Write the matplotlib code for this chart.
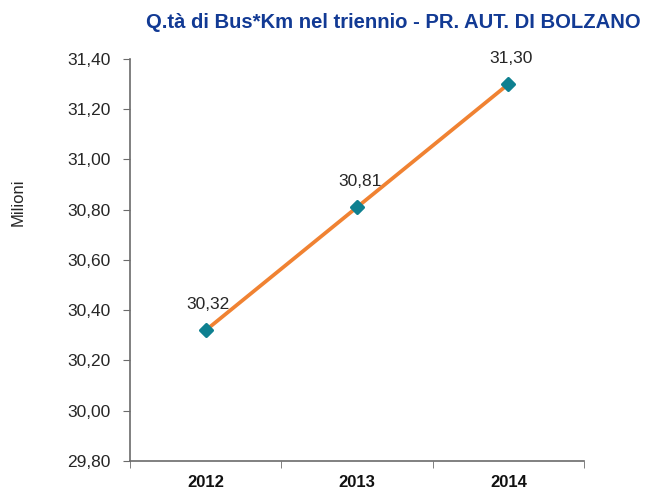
import numpy as np
import matplotlib.pyplot as plt
from matplotlib.markers import MarkerStyle
from matplotlib.ticker import FuncFormatter, FixedLocator

years = ['2012', '2013', '2014']
values = [30.32, 30.81, 31.30]
yticks = [29.8, 30.0, 30.2, 30.4, 30.6, 30.8, 31.0, 31.2, 31.4]

plt.rcParams['font.family'] = ['Liberation Sans', 'DejaVu Sans']

fig = plt.figure(figsize=(6.51, 4.90), dpi=100)
ax = fig.add_axes([0.1997, 0.0592, 0.6974, 0.8204])

x = np.arange(len(years))
ax.plot(x, values, color='#F08232', linewidth=2.7, zorder=2)
ax.plot(x, values, linestyle='none', marker=MarkerStyle('D', joinstyle='round'),
        markersize=6.5, markeredgewidth=2.2,
        color='#0E8090', markeredgecolor='#0E8090', zorder=3)

for xi, v in zip(x, values):
    ax.annotate(f'{v:.2f}'.replace('.', ','), (xi, v), xytext=(2, 13),
                textcoords='offset points', ha='center', va='bottom',
                fontsize=12.5, color='#262626')

ax.set_xlim(-0.5, 2.5)
ax.set_ylim(29.8, 31.4)
ax.set_yticks(yticks)
ax.yaxis.set_major_formatter(FuncFormatter(lambda v, p: f'{v:.2f}'.replace('.', ',')))

ax.set_xticks(x)
ax.set_xticklabels(years, fontweight='bold', fontsize=12)
ax.xaxis.set_minor_locator(FixedLocator([-0.5, 0.5, 1.5, 2.5]))
ax.tick_params(axis='x', which='major', length=0, pad=10, colors='#111111')
ax.tick_params(axis='x', which='minor', length=5, color='#6b6b6b')
ax.tick_params(axis='y', length=5, color='#6b6b6b', labelsize=12.5, pad=9,
               labelcolor='#262626')

for s in ['top', 'right']:
    ax.spines[s].set_visible(False)
for s in ['left', 'bottom']:
    ax.spines[s].set_color('#6b6b6b')
    ax.spines[s].set_linewidth(1.2)

fig.text(18 / 651, 1 - 202 / 490, 'Milioni', rotation=90, ha='center', va='center',
         fontsize=12, color='#262626')

fig.text(0.984, 0.955, 'Q.tà di Bus*Km nel triennio - PR. AUT. DI BOLZANO',
         ha='right', va='center', fontsize=14.6, fontweight='bold', color='#123A94')

fig.savefig('out.png', dpi=100)
